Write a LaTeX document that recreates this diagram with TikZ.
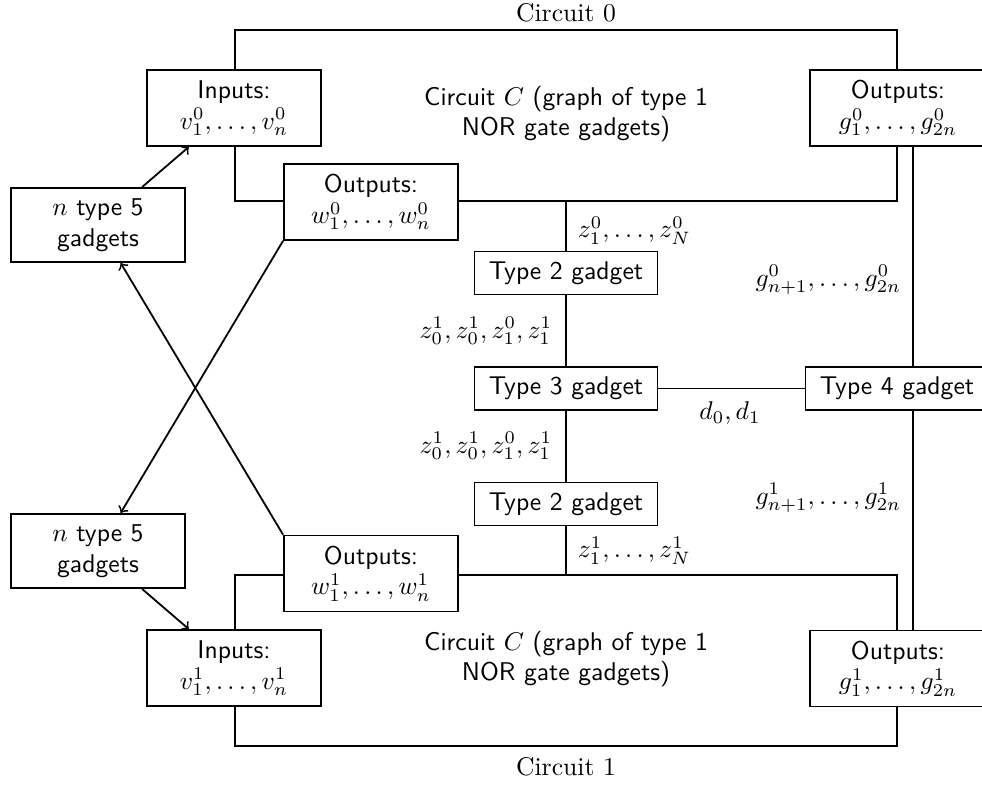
\documentclass[tikz,border=0pt]{standalone}
\usepackage{amsmath}
\begin{document}
\begin{tikzpicture}[x=0.39pt,y=-0.39pt, line width=0.7pt,
  circ/.style={draw, minimum width=258.2pt, minimum height=66.7pt, inner sep=0pt},
  ctext/.style={align=center, font=\sffamily, inner sep=1pt},
  box/.style={draw, fill=white, align=center, font=\sffamily, minimum width=67.9pt, minimum height=29.6pt, inner sep=2pt},
  gbox/.style={box, minimum width=68.6pt},
  gad/.style={draw, fill=white, font=\sffamily, minimum width=71.4pt, minimum height=16.8pt, inner sep=2pt},
  lbl/.style={inner sep=0pt}]
\useasboundingbox (0,0) rectangle (982,784);
% circuits
\node[circ] (c0) at (566,115.5) {};
\node[circ] (c1) at (566,660.5) {};
\node[ctext] (c0t) at (566,114) {Circuit $C$ (graph of type 1\\NOR gate gadgets)};
\node[ctext] (c1t) at (566,659) {Circuit $C$ (graph of type 1\\NOR gate gadgets)};
\node (c0lbl) at (566,12.5) {Circuit 0};
\node (c1lbl) at (566,766.5) {Circuit 1};
% boxes on circuit 0
\node[box] (in0) at (234,108) {Inputs:\\$v_1^0,\dots,v_n^0$};
\node[box] (w0) at (371,202) {Outputs:\\$w_1^0,\dots,w_n^0$};
\node[gbox] (g0) at (898,108) {Outputs:\\$g_1^0,\dots,g_{2n}^0$};
% boxes on circuit 1
\node[box] (w1) at (371,573.5) {Outputs:\\$w_1^1,\dots,w_n^1$};
\node[box] (in1) at (234,668) {Inputs:\\$v_1^1,\dots,v_n^1$};
\node[gbox] (g1) at (898,668.5) {Outputs:\\$g_1^1,\dots,g_{2n}^1$};
% type 5
\node[box, minimum height=28.9pt] (t5a) at (98,225) {$n$ type 5\\gadgets};
\node[box, minimum height=28.9pt] (t5b) at (98,551) {$n$ type 5\\gadgets};
% gadgets
\node[gad] (t2a) at (566,273) {Type 2 gadget};
\node[gad] (t3) at (566,388.5) {Type 3 gadget};
\node[gad] (t2b) at (566,504) {Type 2 gadget};
\node[gad] (t4) at (897,388.5) {Type 4 gadget};
\coordinate (gx) at (913,0);
% connectors
\draw (c0.south) -- (t2a.north);
\draw (t2a.south) -- (t3.north);
\draw (t3.south) -- (t2b.north);
\draw (t2b.south) -- (c1.north);
\draw (t3.east) -- (t4.west);
\draw (g0.south -| gx) -- (t4.north -| gx);
\draw (t4.south -| gx) -- (g1.north -| gx);
\draw[->] (t5a) -- (in0);
\draw[->] (w0.south west) -- (t5b);
\draw[->] (w1.north west) -- (t5a);
\draw[->] (t5b) -- (in1);
% labels
\node[lbl, anchor=west] (lz0) at (577,231) {$z_1^0,\dots,z_N^0$};
\node[lbl, anchor=east] (lza) at (553,331) {$z_0^1,z_0^1,z_1^0,z_1^1$};
\node[lbl, anchor=east] (lzb) at (553,446) {$z_0^1,z_0^1,z_1^0,z_1^1$};
\node[lbl, anchor=west] (lz1) at (577,551) {$z_1^1,\dots,z_N^1$};
\node[lbl] (ld) at (730,413) {$d_0,d_1$};
\node[lbl, anchor=east] (lg0) at (902,280) {$g_{n+1}^0,\dots,g_{2n}^0$};
\node[lbl, anchor=east] (lg1) at (902,498) {$g_{n+1}^1,\dots,g_{2n}^1$};
\end{tikzpicture}
\end{document}
